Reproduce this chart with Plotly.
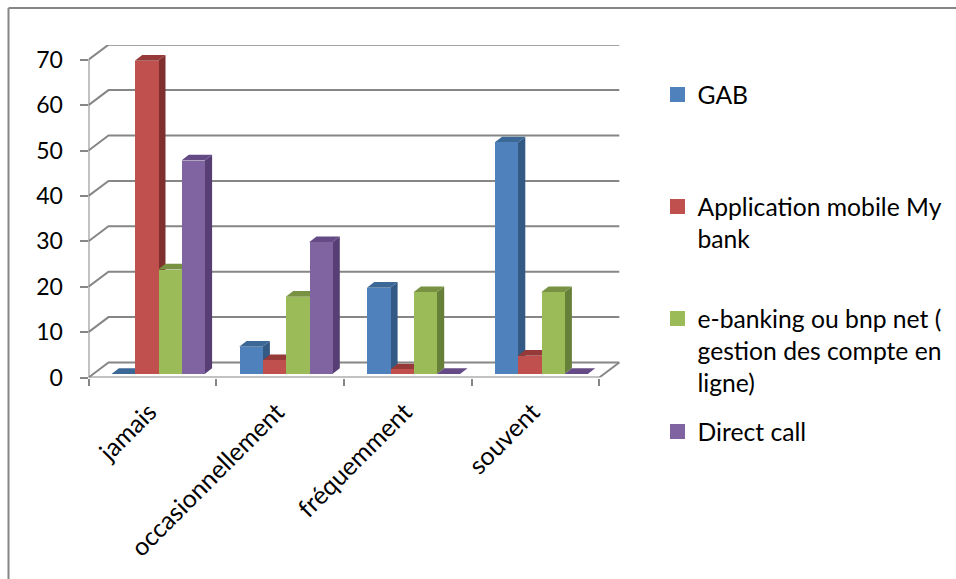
import plotly.graph_objects as go

categories = ["jamais", "occasionnellement", "fréquemment", "souvent"]
gab = [0, 6, 19, 51]
app_mobile = [69, 3, 1, 4]
e_banking = [23, 17, 18, 18]
direct_call = [47, 29, 0, 0]
y_ticks = [0, 10, 20, 30, 40, 50, 60, 70]
series_names = ["GAB", "Application mobile My<br>bank",
                "e-banking ou bnp net (<br>gestion des compte en<br>ligne)", "Direct call"]

W, H = 956, 579
FONT = "Lato"
GRID = "#868686"
front = ["#4F81BD", "#C0504D", "#9BBB59", "#8064A2"]
side = ["#335A85", "#7F2F2D", "#66803A", "#573F75"]
top = ["#3B6896", "#953A38", "#789142", "#644B85"]

# pixel geometry of the pseudo-3D box
L, R_BACK, Y0, Y_TOP = 88.5, 620.5, 377.5, 45.0
CAT_PX = 127.7
UNIT_PX = 4.54
wall_dx, wall_dy = 20 / CAT_PX, 15 / UNIT_PX
bar_dx, bar_dy = 7.4 / CAT_PX, 5.8 / UNIT_PX
bar_w = 23.3 / CAT_PX
bar_off = 23.0 / CAT_PX
bar_base = 3.5 / UNIT_PX
n = len(categories)
x_rng = [0, (R_BACK - L) / CAT_PX]
y_rng = [0, (Y0 - Y_TOP) / UNIT_PX]

fig = go.Figure()

# grid, walls and floor
gx, gy = [], []
for v in y_ticks:
    gx += [0, wall_dx, n + wall_dx, None]
    gy += [v, v + wall_dy, v + wall_dy, None]
gx += [0, 0, None, 0, n, n + wall_dx, None]
gy += [0, max(y_ticks), None, 0, 0, wall_dy, None]
fig.add_trace(go.Scatter(x=gx, y=gy, mode="lines", line=dict(color=GRID, width=2),
                         showlegend=False, hoverinfo="skip", cliponaxis=False))

values = [gab, app_mobile, e_banking, direct_call]

# side and top faces
for s, vals in enumerate(values):
    for c, v in enumerate(vals):
        x0 = c + bar_off + s * bar_w
        x1 = x0 + bar_w
        b, t = bar_base, bar_base + v
        if v > 0:
            fig.add_trace(go.Scatter(
                x=[x1, x1 + bar_dx, x1 + bar_dx, x1, x1],
                y=[b, b + bar_dy, t + bar_dy, t, b],
                mode="lines", fill="toself", fillcolor=side[s], line=dict(width=0),
                showlegend=False, hoverinfo="skip"))
        fig.add_trace(go.Scatter(
            x=[x0, x1, x1 + bar_dx, x0 + bar_dx, x0],
            y=[t, t, t + bar_dy, t + bar_dy, t],
            mode="lines", fill="toself", fillcolor=top[s], line=dict(width=0),
            showlegend=False, hoverinfo="skip"))

# front faces
for s, vals in enumerate(values):
    fig.add_trace(go.Bar(
        x=[c + bar_off + (s + 0.5) * bar_w for c in range(n)],
        y=vals, base=bar_base, width=bar_w, name=series_names[s].replace("<br>", " "),
        marker=dict(color=front[s], line=dict(width=0)),
        xaxis="x2", yaxis="y2", showlegend=False))

# one legend per series so the irregular spacing can be kept
legend_ids = ["legend", "legend2", "legend3", "legend4"]
for s, lid in enumerate(legend_ids):
    fig.add_trace(go.Scatter(
        x=[None], y=[None], mode="markers", name=series_names[s], legend=lid,
        marker=dict(symbol="square", size=15, color=front[s]), showlegend=True))

legend_tops = [72, 184, 296, 409]
legends = {}
for lid, ty in zip(legend_ids, legend_tops):
    legends[lid] = dict(x=657.5 / W, y=1 - ty / H, xanchor="left", yanchor="top", valign="top",
                        bgcolor="rgba(0,0,0,0)", borderwidth=0,
                        font=dict(family=FONT, size=24.7, color="black"), itemclick=False)

domain_x = [L / W, R_BACK / W]
domain_y = [1 - Y0 / H, 1 - Y_TOP / H]
fig.update_layout(
    width=W, height=H, margin=dict(l=0, r=0, t=0, b=0, autoexpand=False),
    paper_bgcolor="white", plot_bgcolor="white",
    font=dict(family=FONT, size=23, color="black"),
    barmode="overlay", bargap=0,
    **legends,
    xaxis=dict(domain=domain_x, range=x_rng, showgrid=False, zeroline=False, showline=False,
               tickmode="array", tickvals=[i + 0.5 for i in range(n)], ticktext=categories,
               tickangle=-45, ticks="", ticklen=7, tickfont=dict(size=25),
               ticklabelstandoff=14, ticklabelshift=-3,
               minor=dict(tickmode="array", tickvals=list(range(n + 1)), ticks="outside",
                          ticklen=7, tickwidth=2, tickcolor=GRID, showgrid=False)),
    yaxis=dict(domain=domain_y, range=y_rng, showgrid=False, zeroline=False, showline=False,
               tickmode="array", tickvals=y_ticks, ticks="outside", ticklen=8, tickwidth=2,
               tickcolor=GRID, ticklabelstandoff=12),
    xaxis2=dict(domain=domain_x, range=x_rng, overlaying="x", visible=False),
    yaxis2=dict(domain=domain_y, range=y_rng, overlaying="y", visible=False),
    shapes=[
        dict(type="line", xref="paper", yref="paper", x0=8.5 / W, x1=1, y0=1 - 8 / H, y1=1 - 8 / H,
             line=dict(color=GRID, width=2)),
        dict(type="line", xref="paper", yref="paper", x0=8.5 / W, x1=8.5 / W, y0=0, y1=1 - 8 / H,
             line=dict(color=GRID, width=2)),
    ],
)

fig.write_html("out.html", post_script="document.body.style.margin='0';", config={"displayModeBar": False})
